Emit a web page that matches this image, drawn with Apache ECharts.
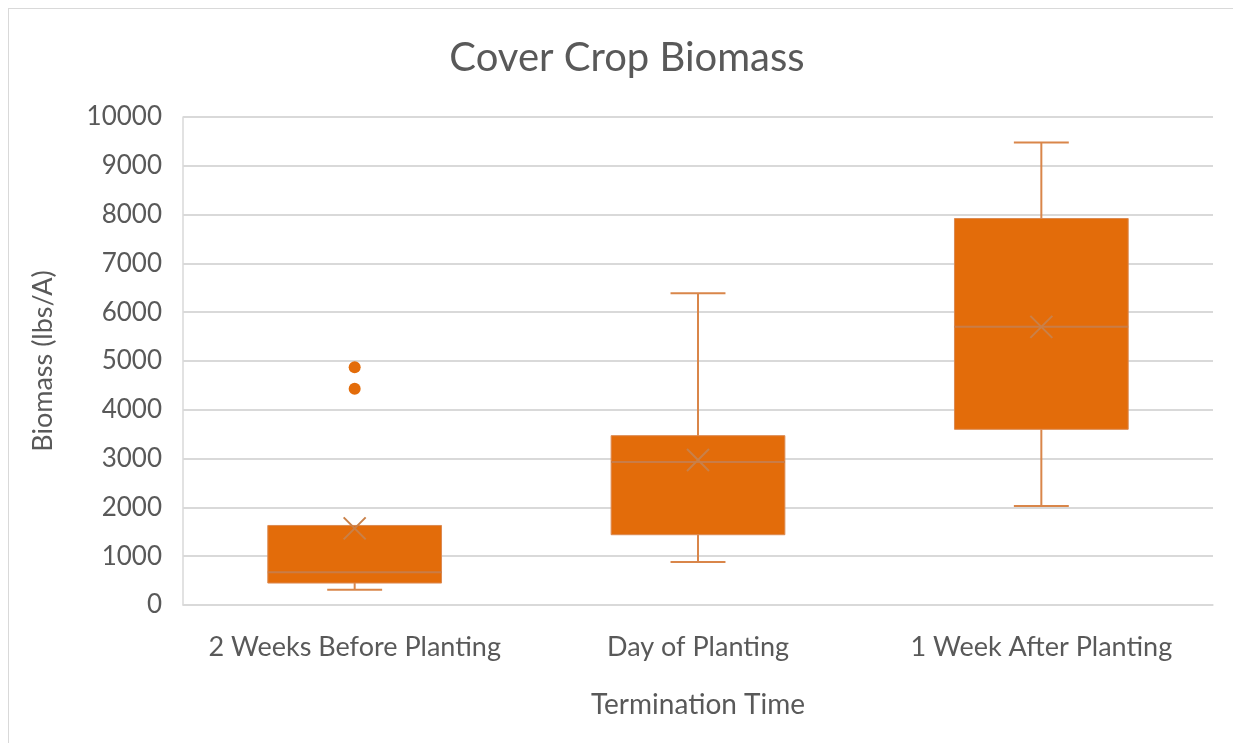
<!DOCTYPE html>
<html>
<head>
<meta charset="utf-8">
<script src="https://cdn.jsdelivr.net/npm/echarts@6/dist/echarts.min.js"></script>
<style>
  html, body { margin: 0; padding: 0; background: #fff; }
  #frame { position: absolute; left: 8px; top: 8px; width: 1240px; height: 760px; border: 1px solid #d9d9d9; }
  #chart { position: absolute; left: 0; top: 0; width: 1233px; height: 743px; }
</style>
</head>
<body>
<div id="frame"></div>
<div id="chart"></div>
<script>
const categories = ['2 Weeks Before Planting', 'Day of Planting', '1 Week After Planting'];
// [low whisker, Q1, median, Q3, high whisker]
const boxValues = [
  [310, 450, 670, 1630, 1630],
  [880, 1440, 2930, 3470, 6390],
  [2030, 3600, 5700, 7920, 9480]
];
const meanValues = [1570, 2970, 5700];
const outliers = [[0, 4870], [0, 4430]];
const yTicks = { min: 0, max: 10000, interval: 1000 };

const textColor = '#595959';
const fontFamily = 'Lato, "Open Sans", sans-serif';

const chart = echarts.init(document.getElementById('chart'));

const option = {
  animation: false,
  title: {
    text: 'Cover Crop Biomass',
    left: 622,
    top: 33,
    textAlign: 'center',
    textStyle: { color: textColor, fontFamily, fontWeight: 'normal', fontSize: 40 }
  },
  grid: { left: 183, right: 20, top: 117, bottom: 138 },
  xAxis: {
    type: 'category',
    data: categories,
    name: 'Termination Time',
    nameLocation: 'middle',
    nameGap: 86,
    nameTextStyle: { color: textColor, fontFamily, fontSize: 28 },
    axisLine: { lineStyle: { color: '#d9d9d9', width: 1.5 } },
    axisTick: { show: false },
    axisLabel: { color: textColor, fontFamily, fontSize: 27, margin: 29, interval: 0 }
  },
  yAxis: {
    type: 'value',
    min: yTicks.min,
    max: yTicks.max,
    interval: yTicks.interval,
    name: 'Biomass (lbs/A)',
    nameLocation: 'middle',
    nameGap: 126,
    nameTextStyle: { color: textColor, fontFamily, fontSize: 27 },
    axisLine: { show: true, lineStyle: { color: '#d9d9d9', width: 1.5 } },
    axisTick: { show: false },
    axisLabel: { color: textColor, fontFamily, fontSize: 26, margin: 21, formatter: v => String(v) },
    splitLine: { lineStyle: { color: '#d9d9d9', width: 2 } }
  },
  series: [
    {
      type: 'custom',
      data: boxValues.map((v, i) => [i].concat(v)),
      encode: { x: 0, y: [1, 2, 3, 4, 5] },
      z: 2,
      renderItem: function (params, api) {
        const idx = api.value(0);
        const bandW = api.size([1, 0])[0];
        const half = bandW * 0.253;
        const cap = bandW * 0.08;
        const low = api.coord([idx, api.value(1)]);
        const q1 = api.coord([idx, api.value(2)]);
        const med = api.coord([idx, api.value(3)]);
        const q3 = api.coord([idx, api.value(4)]);
        const high = api.coord([idx, api.value(5)]);
        const cx = low[0];
        const whisker = { stroke: '#d9864a', lineWidth: 2 };
        const children = [
          { type: 'line', shape: { x1: cx, y1: q1[1], x2: cx, y2: low[1] }, style: whisker },
          { type: 'line', shape: { x1: cx - cap, y1: low[1], x2: cx + cap, y2: low[1] }, style: whisker },
          {
            type: 'rect',
            shape: { x: cx - half, y: q3[1], width: half * 2, height: q1[1] - q3[1] },
            style: { fill: '#e36c0a', stroke: '#dc8a52', lineWidth: 1 }
          },
          { type: 'line', shape: { x1: cx - half, y1: med[1], x2: cx + half, y2: med[1] }, style: { stroke: '#c97c47', lineWidth: 2 } }
        ];
        if (high[1] < q3[1] - 0.5) {
          children.push(
            { type: 'line', shape: { x1: cx, y1: q3[1], x2: cx, y2: high[1] }, style: whisker },
            { type: 'line', shape: { x1: cx - cap, y1: high[1], x2: cx + cap, y2: high[1] }, style: whisker }
          );
        }
        return { type: 'group', children };
      }
    },
    {
      type: 'scatter',
      data: meanValues.map((v, i) => [i, v]),
      symbol: 'path://M0,0L10,10M10,0L0,10',
      symbolSize: 22,
      z: 3,
      itemStyle: { color: 'none', borderColor: '#c98049', borderWidth: 2, opacity: 1 }
    },
    {
      type: 'scatter',
      data: outliers,
      symbol: 'circle',
      symbolSize: 12,
      z: 3,
      itemStyle: { color: '#e36c0a', opacity: 1 }
    }
  ]
};

chart.setOption(option);
window.addEventListener('resize', () => chart.resize());
</script>
</body>
</html>
